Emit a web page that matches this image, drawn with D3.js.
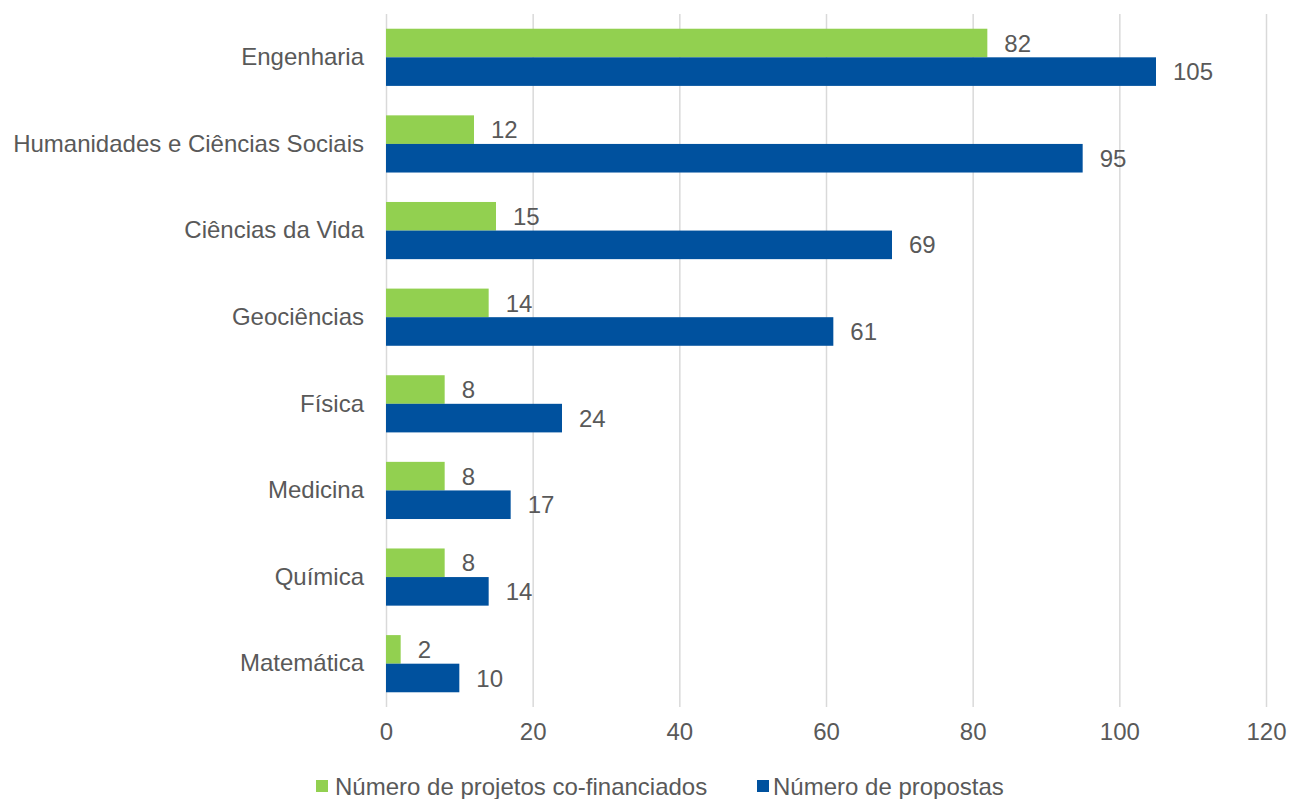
<!DOCTYPE html>
<html><head><meta charset="utf-8">
<script src="https://cdn.jsdelivr.net/npm/d3@7"></script>
<style>body{margin:0;background:#fff}svg{display:block}text{font-family:"Liberation Sans",Arial,sans-serif;fill:#595959}</style>
</head><body><svg id="c" width="1289" height="799"></svg>
<script>
const categories = ["Engenharia","Humanidades e Ciências Sociais","Ciências da Vida","Geociências","Física","Medicina","Química","Matemática"];
const cofinanciados = [82,12,15,14,8,8,8,2];
const propostas = [105,95,69,61,24,17,14,10];
const seriesNames = ["Número de projetos co-financiados","Número de propostas"];
const colors = ["#92D050","#00519E"];
const ticks = [0,20,40,60,80,100,120];

const svg = d3.select("#c");
const m = {l:386, r:1266, t:14, b:707};
const x = d3.scaleLinear().domain([0,120]).range([m.l, m.r]);
const y = d3.scaleBand().domain(categories).range([m.t, m.b]).paddingInner(0.34).paddingOuter(0.17);
const sub = d3.scaleBand().domain([0,1]).range([0, y.bandwidth()]);
const FS = "24px";

const gx = svg.append("g").attr("transform",`translate(0,${m.b})`)
  .call(d3.axisBottom(x).tickValues(ticks).tickSize(-(m.b-m.t)).tickPadding(16));
gx.select(".domain").remove();
gx.selectAll("line").attr("stroke","#d9d9d9").attr("stroke-width",1.5);
gx.selectAll("text").style("font-size",FS).attr("fill","#595959");

const gy = svg.append("g").attr("transform",`translate(${m.l},0)`)
  .call(d3.axisLeft(y).tickSize(0).tickPadding(22));
gy.select(".domain").remove();
gy.selectAll("text").style("font-size",FS).attr("fill","#595959");

const data = [cofinanciados, propostas];
data.forEach((vals, s) => {
  const g = svg.append("g");
  g.selectAll("rect").data(vals).join("rect")
    .attr("x", x(0)).attr("y", (d,i)=>y(categories[i])+sub(s))
    .attr("width", d=>x(d)-x(0)).attr("height", sub.bandwidth())
    .attr("fill", colors[s]);
  g.selectAll("text").data(vals).join("text")
    .attr("x", d=>x(d)+17).attr("y",(d,i)=>y(categories[i])+sub(s)+sub.bandwidth()/2)
    .attr("dy","0.36em").style("font-size",FS).text(d=>d);
});

// legend
const lg = svg.append("g").attr("transform","translate(0,786)");
const sq = [316, 757], tx = [335, 773];
seriesNames.forEach((n,i)=>{
  lg.append("rect").attr("x",sq[i]).attr("y",-6).attr("width",12).attr("height",12).attr("fill",colors[i]);
  lg.append("text").attr("x",tx[i]).attr("y",0).attr("dy","0.36em").style("font-size",FS).text(n);
});
</script></body></html>
